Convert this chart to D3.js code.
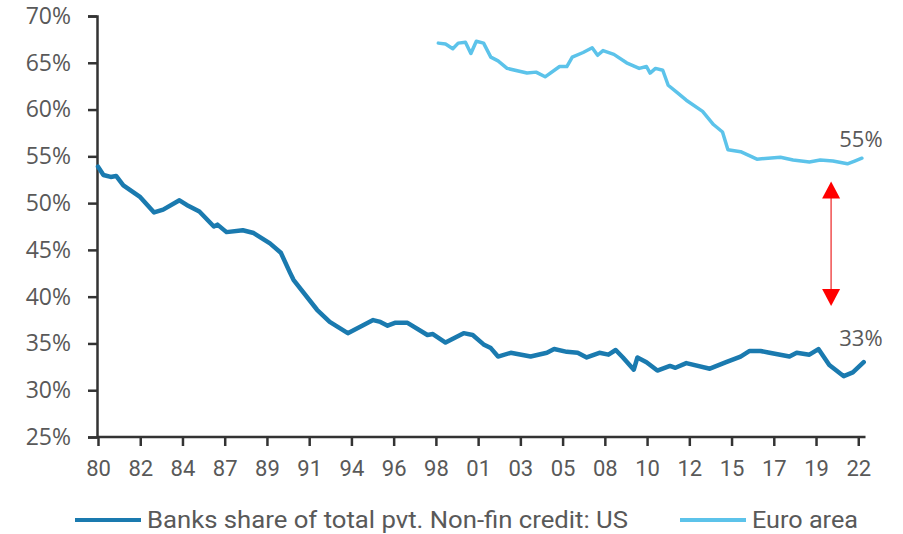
<!DOCTYPE html>
<html>
<head>
<meta charset="utf-8">
<script src="https://cdn.jsdelivr.net/npm/d3@7.9.0/dist/d3.min.js"></script>
<style>
  body { margin: 0; background: #fff; }
  svg { display: block; }
</style>
</head>
<body>
<svg width="903" height="534"></svg>
<script>
// US banks' share of non-fin private credit (%)
const usYears = [1980.0, 1980.3, 1980.7, 1981.0, 1981.4, 1982.3, 1983.1, 1983.6, 1984.5, 1984.9,
  1985.6, 1986.4, 1986.6, 1987.1, 1988.0, 1988.6, 1989.5, 1990.1, 1990.6, 1990.8,
  1992.1, 1992.8, 1993.8, 1995.2, 1995.6, 1996.0, 1996.4, 1997.1, 1998.2, 1998.5,
  1999.2, 2000.2, 2000.7, 2001.3, 2001.7, 2002.1, 2002.8, 2003.9, 2004.8, 2005.2,
  2005.9, 2006.5, 2007.0, 2007.7, 2008.2, 2008.6, 2009.0, 2009.6, 2009.8, 2010.3,
  2010.9, 2011.6, 2011.9, 2012.5, 2013.8, 2014.7, 2015.5, 2016.0, 2016.6, 2017.1,
  2018.2, 2018.6, 2019.3, 2019.8, 2020.4, 2021.2, 2021.7, 2022.3];
const usValues = [53.9, 53.0, 52.8, 52.9, 51.9, 50.7, 49.0, 49.3, 50.3, 49.8,
  49.1, 47.5, 47.7, 46.9, 47.1, 46.8, 45.7, 44.7, 42.6, 41.8,
  38.6, 37.3, 36.1, 37.5, 37.3, 36.9, 37.2, 37.2, 35.9, 36.0,
  35.1, 36.1, 35.9, 34.9, 34.5, 33.6, 34.0, 33.6, 34.0, 34.4,
  34.1, 34.0, 33.5, 34.0, 33.8, 34.3, 33.5, 32.2, 33.5, 33.0,
  32.1, 32.6, 32.4, 32.9, 32.3, 33.0, 33.6, 34.2, 34.2, 34.0,
  33.6, 34.0, 33.8, 34.4, 32.7, 31.5, 31.9, 33.0];

// Euro area
const euYears = [1998.8, 1999.2, 1999.6, 1999.9, 2000.3, 2000.6, 2000.9, 2001.3, 2001.7, 2002.1,
  2002.6, 2003.7, 2004.2, 2004.7, 2005.5, 2005.9, 2006.2, 2006.8, 2007.3, 2007.6,
  2007.9, 2008.5, 2009.2, 2009.9, 2010.3, 2010.5, 2010.8, 2011.2, 2011.5, 2012.0,
  2012.5, 2013.4, 2014.0, 2014.5, 2014.8, 2015.5, 2016.4, 2017.7, 2018.4, 2019.3,
  2019.9, 2020.6, 2021.4, 2021.8, 2022.2];
const euValues = [67.1, 67.0, 66.5, 67.1, 67.2, 66.0, 67.3, 67.1, 65.6, 65.2,
  64.4, 63.9, 64.0, 63.5, 64.6, 64.6, 65.6, 66.1, 66.6, 65.8,
  66.3, 65.9, 65.0, 64.4, 64.6, 63.9, 64.4, 64.2, 62.6, 61.8,
  61.0, 59.8, 58.4, 57.6, 55.7, 55.5, 54.7, 54.9, 54.6, 54.4,
  54.6, 54.5, 54.2, 54.5, 54.8];

const xTickLabels = ["80", "82", "84", "87", "89", "91", "94", "96", "98", "01",
  "03", "05", "08", "10", "12", "15", "17", "19", "22"];
const yTicks = [25, 30, 35, 40, 45, 50, 55, 60, 65, 70];
const seriesNames = ["Banks share of total pvt. Non-fin credit: US", "Euro area"];

const usColor = "#1a7aaf";
const euColor = "#5cc3ea";
const textColor = "#595959";

const svg = d3.select("svg");

const x = d3.scaleLinear().domain([1980, 2022.4]).range([98, 865.5]);
const y = d3.scaleLinear().domain([25, 70]).range([437, 16]);

// tick every 28 months
const xTickVals = xTickLabels.map((d, i) => 1980 + i * 28 / 12);

// y axis
const yAxis = d3.axisLeft(y).tickValues(yTicks).tickSize(9).tickPadding(17)
  .tickFormat(d => d + "%");
const gy = svg.append("g").attr("transform", "translate(97,0)").call(yAxis);
gy.select(".domain").attr("stroke", "#333").attr("stroke-width", 2.5);
gy.selectAll(".tick line").attr("stroke", "#333").attr("stroke-width", 2.5);
gy.selectAll(".tick text")
  .attr("fill", textColor)
  .style("font-family", "'Open Sans', sans-serif")
  .style("font-size", "23px");

// x axis
const xAxis = d3.axisBottom(x).tickValues(xTickVals).tickSize(9).tickPadding(14)
  .tickFormat((d, i) => xTickLabels[i]);
const gx = svg.append("g").attr("transform", "translate(0,437)").call(xAxis);
gx.select(".domain").attr("stroke", "#333").attr("stroke-width", 2.5)
  .attr("d", `M${x(1980) - 1},0H${x.range()[1]}`);
gx.selectAll(".tick line").attr("stroke", "#333").attr("stroke-width", 2.5);
gx.selectAll(".tick text")
  .attr("fill", textColor)
  .style("font-family", "'Roboto', sans-serif")
  .style("font-size", "22px");

// lines
const usData = usYears.map((yr, i) => [yr, usValues[i]]);
const euData = euYears.map((yr, i) => [yr, euValues[i]]);

const line = d3.line().x(d => x(d[0])).y(d => y(d[1])).curve(d3.curveLinear);

svg.append("path").datum(euData)
  .attr("d", line).attr("fill", "none")
  .attr("stroke", euColor).attr("stroke-width", 3.5)
  .attr("stroke-linejoin", "round").attr("stroke-linecap", "round");

svg.append("path").datum(usData)
  .attr("d", line).attr("fill", "none")
  .attr("stroke", usColor).attr("stroke-width", 4.5)
  .attr("stroke-linejoin", "round").attr("stroke-linecap", "round");

// end labels
svg.append("text").attr("x", x(2022.15)).attr("y", y(56.0))
  .attr("text-anchor", "middle").attr("fill", textColor)
  .style("font-family", "'Open Sans', sans-serif").style("font-size", "22px")
  .text("55%");
svg.append("text").attr("x", x(2022.15)).attr("y", y(34.7))
  .attr("text-anchor", "middle").attr("fill", textColor)
  .style("font-family", "'Open Sans', sans-serif").style("font-size", "22px")
  .text("33%");

// red double-headed arrow showing the gap
const ax = x(2020.5), aTop = y(52.3), aBot = y(39.0);
svg.append("line").attr("x1", ax).attr("x2", ax)
  .attr("y1", aTop + 14).attr("y2", aBot - 14)
  .attr("stroke", "#f05050").attr("stroke-width", 1.5);
svg.append("path")
  .attr("d", `M${ax},${aTop}L${ax - 9},${aTop + 17}L${ax + 9},${aTop + 17}Z`)
  .attr("fill", "#ff0000");
svg.append("path")
  .attr("d", `M${ax},${aBot}L${ax - 9},${aBot - 17}L${ax + 9},${aBot - 17}Z`)
  .attr("fill", "#ff0000");

// legend
const legend = svg.append("g").attr("transform", "translate(0,520)");
const legendItems = [
  { name: seriesNames[0], color: usColor, x0: 75, w: 481 },
  { name: seriesNames[1], color: euColor, x0: 680, w: 106 }
];
legendItems.forEach(it => {
  legend.append("line").attr("x1", it.x0).attr("x2", it.x0 + 66)
    .attr("y1", 0).attr("y2", 0)
    .attr("stroke", it.color).attr("stroke-width", 4);
  legend.append("text").attr("x", it.x0 + 72).attr("y", 0).attr("dy", "0.35em")
    .attr("fill", textColor)
    .attr("textLength", it.w).attr("lengthAdjust", "spacingAndGlyphs")
    .style("font-family", "'Roboto', sans-serif")
    .style("font-size", "23px")
    .text(it.name);
});
</script>
</body>
</html>
